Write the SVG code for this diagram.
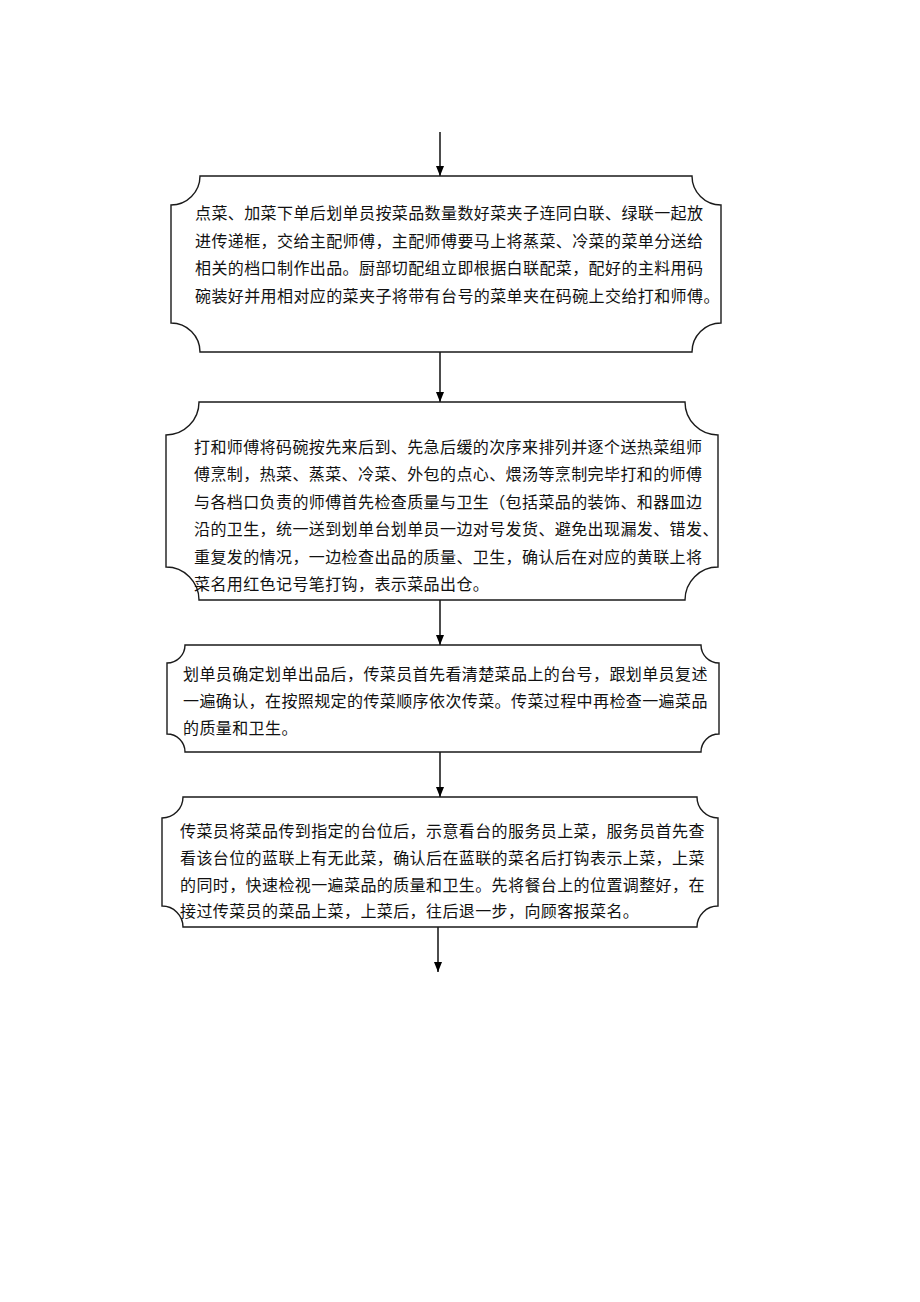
<svg xmlns="http://www.w3.org/2000/svg" width="920" height="1302" viewBox="0 0 920 1302">
<defs>
<marker id="ah" viewBox="0 0 10 10" refX="10" refY="5" markerWidth="10" markerHeight="10" markerUnits="userSpaceOnUse" orient="auto">
<path d="M0,1 L10,5 L0,9 Z" fill="#000"/>
</marker>
<style>
.box{fill:#fff;stroke:#1a1a1a;stroke-width:1.4}
.t{font-family:"Noto Sans CJK SC","Noto Sans",sans-serif;font-size:16px;letter-spacing:0.4px;fill:#111}
.c{stroke:#000;stroke-width:1.4;fill:none}
</style>
</defs>
<rect width="920" height="1302" fill="#fff"/>
<g id="connectors">
<line class="c" x1="440" y1="132" x2="440" y2="176" marker-end="url(#ah)"/>
<line class="c" x1="440" y1="352" x2="440" y2="402" marker-end="url(#ah)"/>
<line class="c" x1="440" y1="600" x2="440" y2="645" marker-end="url(#ah)"/>
<line class="c" x1="440" y1="752" x2="440" y2="797" marker-end="url(#ah)"/>
<line class="c" x1="438" y1="927" x2="438" y2="972" marker-end="url(#ah)"/>
</g>
<g id="node1">
<path class="box" d="M171,205 A29,29 0 0 0 200,176 H692 A29,29 0 0 0 721,205 V323 A29,29 0 0 0 692,352 H200 A29,29 0 0 0 171,323 Z"/>
<text class="t" x="195" y="219">点菜、加菜下单后划单员按菜品数量数好菜夹子连同白联、绿联一起放</text>
<text class="t" x="195" y="247">进传递框，交给主配师傅，主配师傅要马上将蒸菜、冷菜的菜单分送给</text>
<text class="t" x="195" y="274">相关的档口制作出品。厨部切配组立即根据白联配菜，配好的主料用码</text>
<text class="t" x="195" y="302">碗装好并用相对应的菜夹子将带有台号的菜单夹在码碗上交给打和师傅。</text>
</g>
<g id="node2">
<path class="box" d="M166,435 A33,33 0 0 0 199,402 H685 A33,33 0 0 0 718,435 V567 A33,33 0 0 0 685,600 H199 A33,33 0 0 0 166,567 Z"/>
<text class="t" x="194" y="453">打和师傅将码碗按先来后到、先急后缓的次序来排列并逐个送热菜组师</text>
<text class="t" x="194" y="480">傅烹制，热菜、蒸菜、冷菜、外包的点心、煨汤等烹制完毕打和的师傅</text>
<text class="t" x="194" y="508">与各档口负责的师傅首先检查质量与卫生（包括菜品的装饰、和器皿边</text>
<text class="t" x="194" y="535">沿的卫生，统一送到划单台划单员一边对号发货、避免出现漏发、错发、</text>
<text class="t" x="194" y="563">重复发的情况，一边检查出品的质量、卫生，确认后在对应的黄联上将</text>
<text class="t" x="194" y="590">菜名用红色记号笔打钩，表示菜品出仓。</text>
</g>
<g id="node3">
<path class="box" d="M167,663 A18,18 0 0 0 185,645 H701 A18,18 0 0 0 719,663 V734 A18,18 0 0 0 701,752 H185 A18,18 0 0 0 167,734 Z"/>
<text class="t" x="183" y="680">划单员确定划单出品后，传菜员首先看清楚菜品上的台号，跟划单员复述</text>
<text class="t" x="183" y="707">一遍确认，在按照规定的传菜顺序依次传菜。传菜过程中再检查一遍菜品</text>
<text class="t" x="183" y="734">的质量和卫生。</text>
</g>
<g id="node4">
<path class="box" d="M162,818 A21,21 0 0 0 183,797 H697 A21,21 0 0 0 718,818 V906 A21,21 0 0 0 697,927 H183 A21,21 0 0 0 162,906 Z"/>
<text class="t" x="180" y="837">传菜员将菜品传到指定的台位后，示意看台的服务员上菜，服务员首先查</text>
<text class="t" x="180" y="864">看该台位的蓝联上有无此菜，确认后在蓝联的菜名后打钩表示上菜，上菜</text>
<text class="t" x="180" y="891">的同时，快速检视一遍菜品的质量和卫生。先将餐台上的位置调整好，在</text>
<text class="t" x="180" y="917">接过传菜员的菜品上菜，上菜后，往后退一步，向顾客报菜名。</text>
</g>
</svg>
